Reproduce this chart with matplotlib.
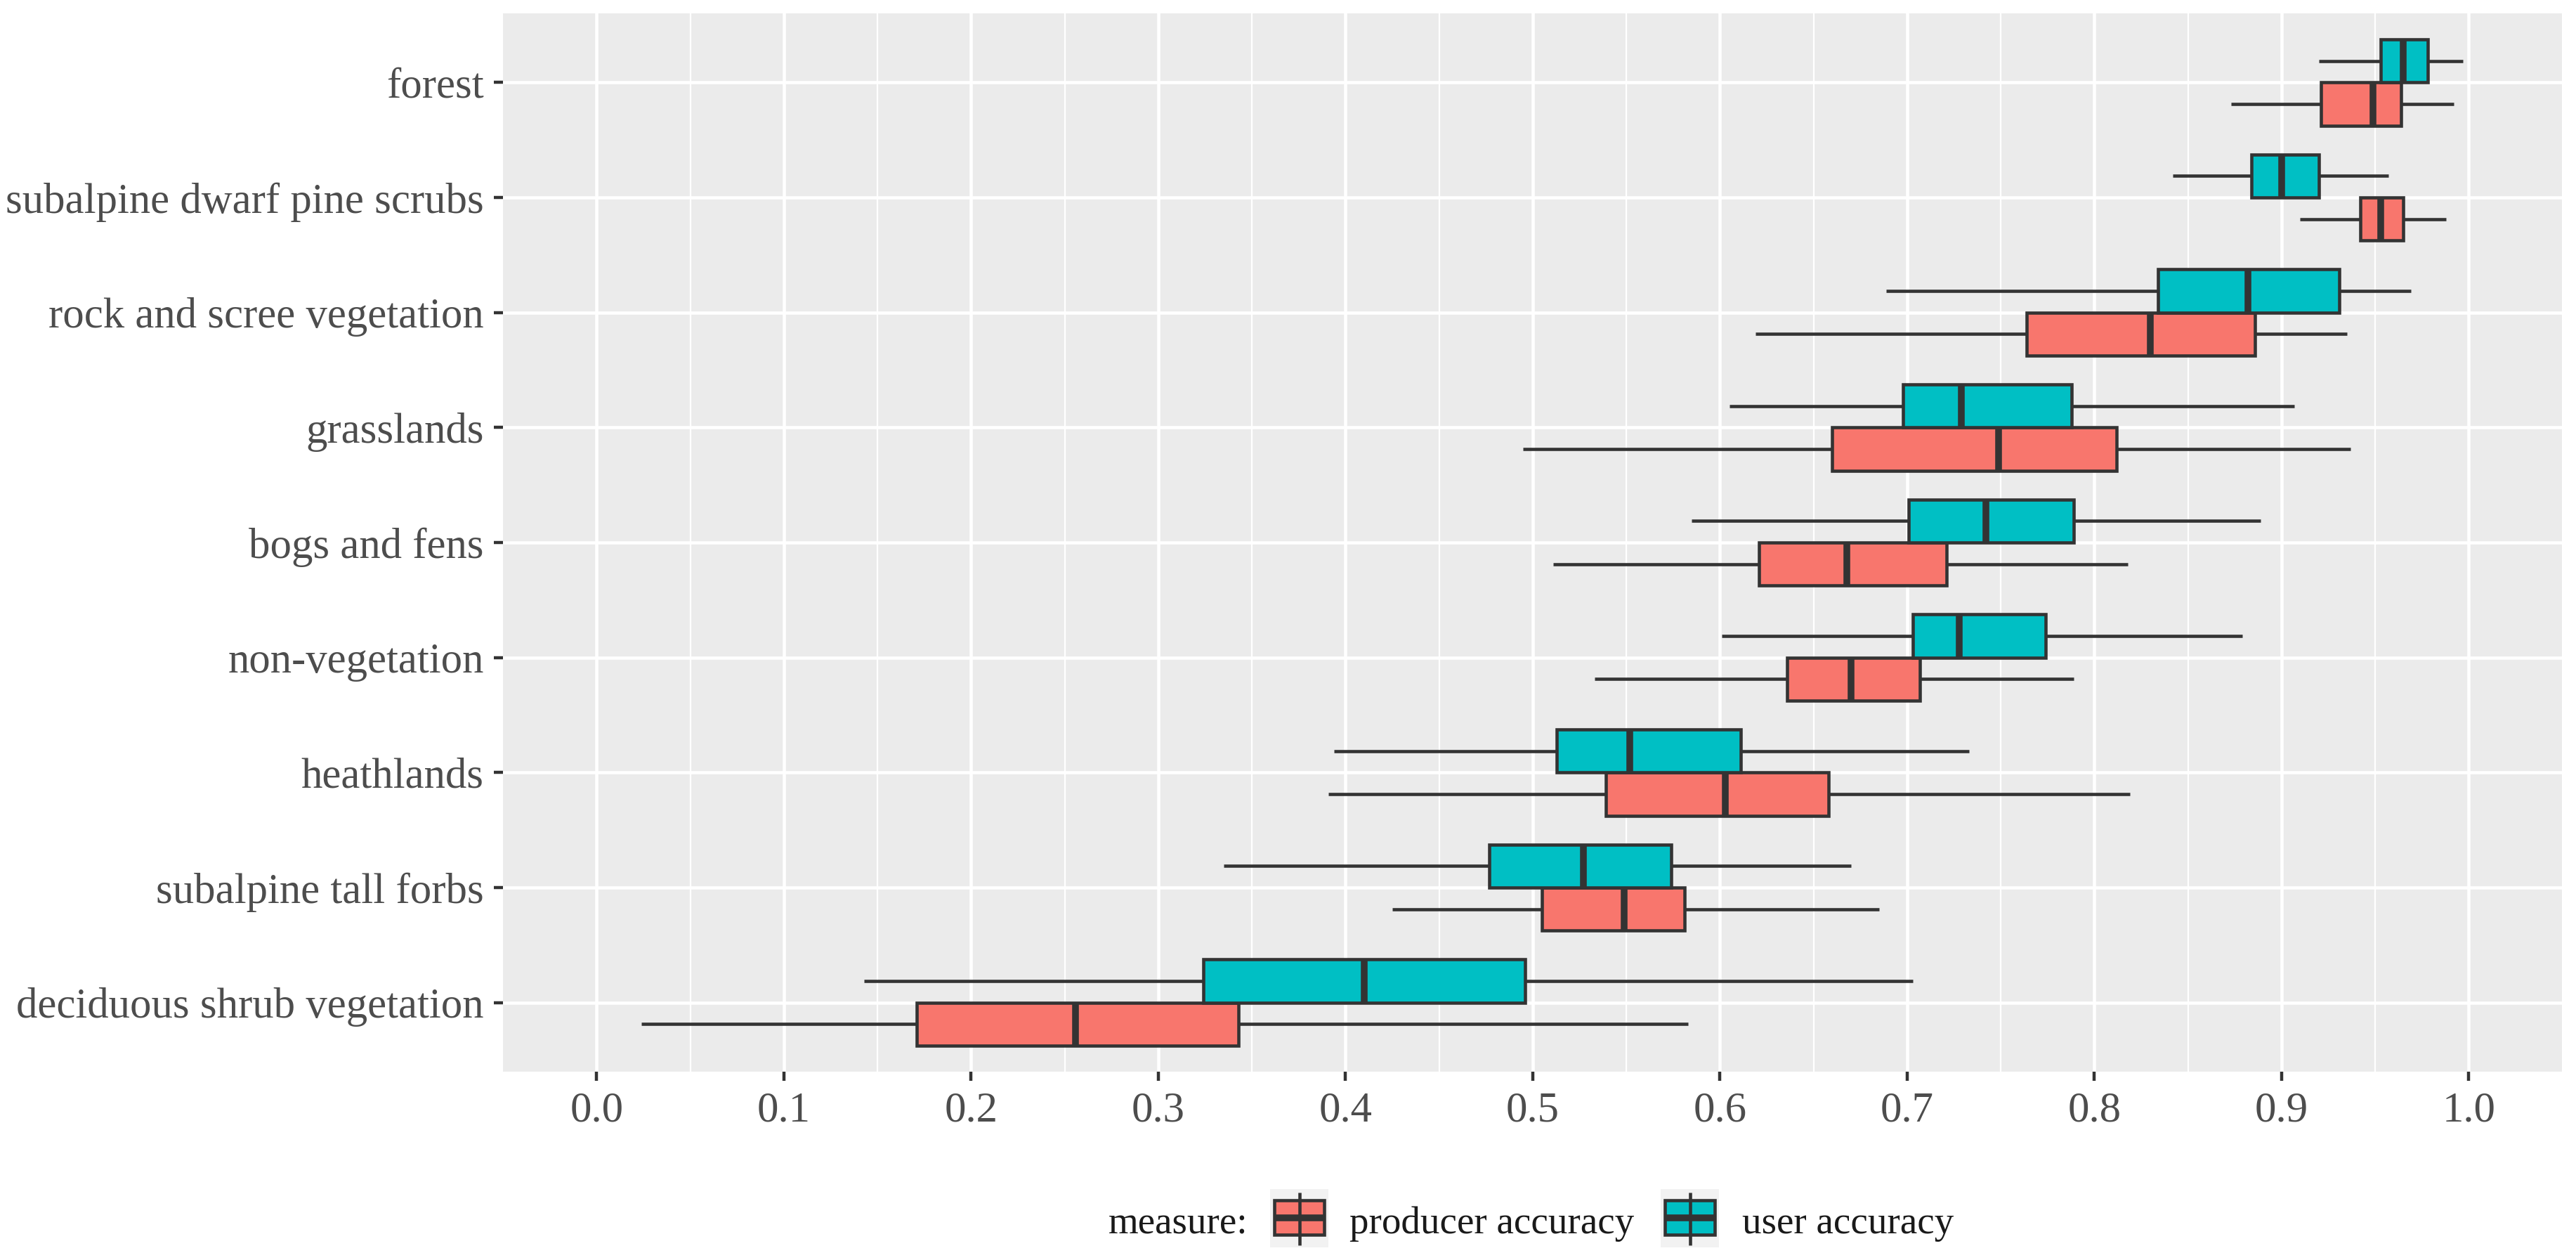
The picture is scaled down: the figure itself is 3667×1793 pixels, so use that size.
import numpy as np
import matplotlib
matplotlib.use("Agg")
import matplotlib.pyplot as plt
from matplotlib.patches import Rectangle
from matplotlib.lines import Line2D

# ---------------- data (top-to-bottom order as shown) ----------------
categories = ["forest", "subalpine dwarf pine scrubs", "rock and scree vegetation",
              "grasslands", "bogs and fens", "non-vegetation", "heathlands",
              "subalpine tall forbs", "deciduous shrub vegetation"]

prod_whislo = [0.873, 0.910, 0.619, 0.495, 0.511, 0.533, 0.391, 0.425, 0.024]
prod_q1     = [0.921, 0.942, 0.764, 0.660, 0.621, 0.636, 0.539, 0.505, 0.171]
prod_med    = [0.949, 0.953, 0.830, 0.749, 0.668, 0.670, 0.603, 0.549, 0.256]
prod_q3     = [0.964, 0.965, 0.886, 0.812, 0.721, 0.707, 0.658, 0.581, 0.343]
prod_whishi = [0.992, 0.988, 0.935, 0.937, 0.818, 0.789, 0.819, 0.685, 0.583]

user_whislo = [0.920, 0.842, 0.689, 0.605, 0.585, 0.601, 0.394, 0.335, 0.143]
user_q1     = [0.953, 0.884, 0.834, 0.698, 0.701, 0.703, 0.513, 0.477, 0.324]
user_med    = [0.965, 0.900, 0.882, 0.729, 0.742, 0.728, 0.552, 0.527, 0.410]
user_q3     = [0.978, 0.920, 0.931, 0.788, 0.789, 0.774, 0.611, 0.574, 0.496]
user_whishi = [0.997, 0.957, 0.969, 0.907, 0.889, 0.879, 0.733, 0.670, 0.703]

xtick_vals = [0.0, 0.1, 0.2, 0.3, 0.4, 0.5, 0.6, 0.7, 0.8, 0.9, 1.0]
xtick_labels = ["0.0", "0.1", "0.2", "0.3", "0.4", "0.5", "0.6", "0.7", "0.8", "0.9", "1.0"]
legend_title = "measure:"
series_names = ["producer accuracy", "user accuracy"]
series_colors = ["#F8766D", "#00BFC4"]

# ---------------- figure ----------------
plt.rcParams["font.family"] = ["Liberation Serif", "DejaVu Serif"]
W, H, DPI = 3667, 1793, 300
fig = plt.figure(figsize=(W / DPI, H / DPI), dpi=DPI)
fig.patch.set_facecolor("white")

ax = fig.add_axes([716 / W, 1 - 1525 / H, 2931.5 / W, 1506 / H])
ax.set_facecolor("#EBEBEB")
for s in ax.spines.values():
    s.set_visible(False)

n = len(categories)
ypos = np.arange(n, 0, -1)  # forest at top
dodge = 0.1875
EDGE = "#333333"

def stats_of(lo, q1, med, q3, hi):
    return [dict(whislo=a, q1=b, med=c, q3=d, whishi=e, fliers=[])
            for a, b, c, d, e in zip(lo, q1, med, q3, hi)]

groups = [
    (stats_of(prod_whislo, prod_q1, prod_med, prod_q3, prod_whishi), ypos - dodge, series_colors[0]),
    (stats_of(user_whislo, user_q1, user_med, user_q3, user_whishi), ypos + dodge, series_colors[1]),
]
for st, pos, col in groups:
    kw = dict(positions=pos, widths=0.375, patch_artist=True, showcaps=False,
              showfliers=False, manage_ticks=False,
              boxprops=dict(facecolor=col, edgecolor=EDGE, linewidth=1.1),
              medianprops=dict(color=EDGE, linewidth=2.3, solid_capstyle="butt"),
              whiskerprops=dict(color=EDGE, linewidth=1.1, solid_capstyle="butt"))
    try:
        ax.bxp(st, orientation="horizontal", **kw)
    except TypeError:
        ax.bxp(st, vert=False, **kw)

ax.set_xlim(-0.05, 1.05)
ax.set_ylim(0.4, n + 0.6)
ax.set_xticks(xtick_vals)
ax.set_xticklabels(xtick_labels)
ax.set_xticks(np.arange(0.05, 1.0, 0.1), minor=True)
ax.set_yticks(ypos)
ax.set_yticklabels(categories)
ax.set_axisbelow(True)
ax.grid(which="major", color="white", linewidth=1.1)
ax.grid(which="minor", axis="x", color="white", linewidth=0.55)
ax.tick_params(which="major", length=3.2, width=1.07, color=EDGE,
               labelsize=14.6, labelcolor="#4D4D4D", pad=3.4)
ax.tick_params(which="minor", length=0)

# ---------------- legend (bottom, horizontal) ----------------
def fx(px):
    return px / W

def fy(py):
    return 1 - py / H

LEG_FS = 13.2
fig.text(fx(1578), fy(1755), legend_title, fontsize=LEG_FS, color="#1A1A1A",
         ha="left", va="baseline")
key_left = [1808, 2364]
text_left = [1921, 2480]
for kl, tl, name, col in zip(key_left, text_left, series_names, series_colors):
    fig.add_artist(Rectangle((fx(kl), fy(1775)), 83 / W, 83 / H, transform=fig.transFigure,
                             facecolor="#F2F2F2", edgecolor="none"))
    bl, br = kl + 6, kl + 77
    cx = (bl + br) / 2
    fig.add_artist(Line2D([fx(cx), fx(cx)], [fy(1697), fy(1772)], transform=fig.transFigure,
                          color=EDGE, linewidth=1.1, solid_capstyle="butt"))
    fig.add_artist(Rectangle((fx(bl), fy(1757)), (br - bl) / W, 49 / H, transform=fig.transFigure,
                             facecolor=col, edgecolor=EDGE, linewidth=1.1))
    fig.add_artist(Line2D([fx(bl), fx(br)], [fy(1733), fy(1733)], transform=fig.transFigure,
                          color=EDGE, linewidth=2.3, solid_capstyle="butt"))
    fig.text(fx(tl), fy(1755), name, fontsize=LEG_FS, color="#1A1A1A",
             ha="left", va="baseline")

fig.savefig("out.png", dpi=DPI, facecolor="white")
